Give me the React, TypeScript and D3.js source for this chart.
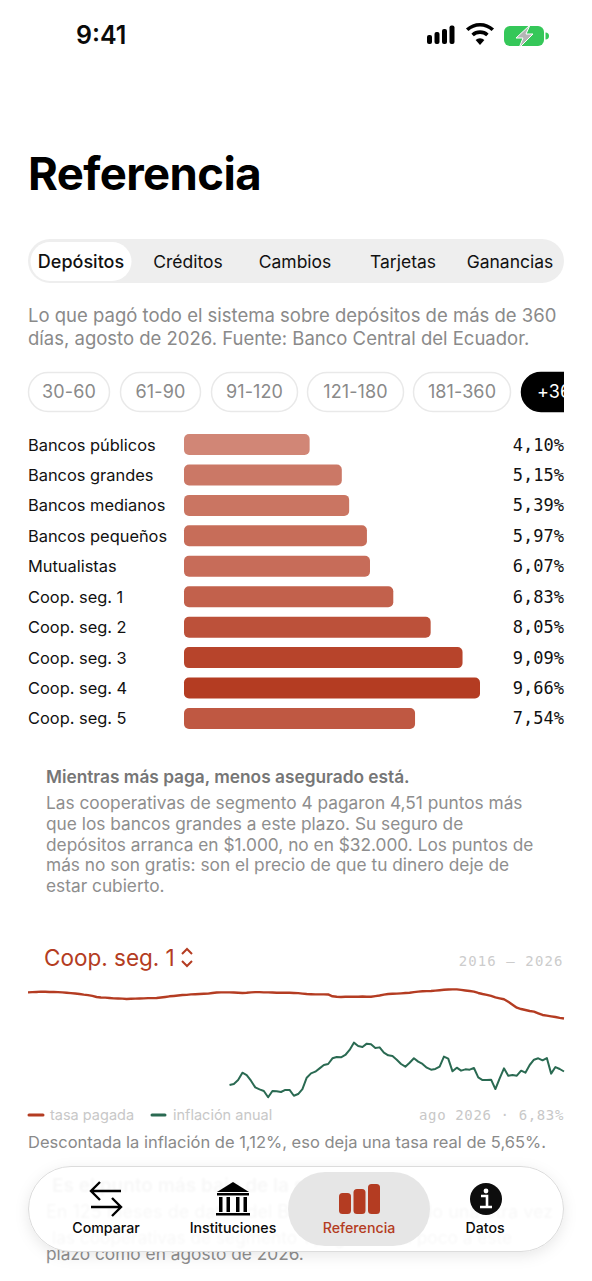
import React from "react";
import { scaleBand, scaleLinear, line } from "d3";

const tabs = ["Depósitos", "Créditos", "Cambios", "Tarjetas", "Ganancias"];
const tabCenters = [81, 188, 295, 403, 510];
const chips = ["30-60", "61-90", "91-120", "121-180", "181-360", "+360"];
const chipEdges = [[28, 110], [120, 201], [211, 298], [307, 404], [413, 511], [521, 600]];

const categories = [
  "Bancos públicos", "Bancos grandes", "Bancos medianos", "Bancos pequeños", "Mutualistas",
  "Coop. seg. 1", "Coop. seg. 2", "Coop. seg. 3", "Coop. seg. 4", "Coop. seg. 5",
];
const rates = [4.1, 5.15, 5.39, 5.97, 6.07, 6.83, 8.05, 9.09, 9.66, 7.54];

// monthly, coop. seg. 1
const tasaPagada = [
  9.65, 9.67, 9.69, 9.72, 9.71, 9.69, 9.69, 9.67, 9.65, 9.61,
  9.56, 9.52, 9.47, 9.4, 9.35, 9.26, 9.15, 9.09, 9.08, 9.04,
  9.0, 8.99, 8.97, 8.93, 8.95, 8.97, 8.98, 9.0, 9.02, 9.02,
  9.04, 9.09, 9.15, 9.22, 9.26, 9.31, 9.36, 9.38, 9.43, 9.45,
  9.47, 9.49, 9.51, 9.58, 9.63, 9.65, 9.65, 9.65, 9.63, 9.61,
  9.58, 9.6, 9.65, 9.67, 9.67, 9.65, 9.65, 9.63, 9.61, 9.61,
  9.61, 9.6, 9.58, 9.56, 9.51, 9.47, 9.45, 9.43, 9.43, 9.43,
  9.42, 9.22, 9.17, 9.15, 9.17, 9.18, 9.18, 9.18, 9.2, 9.18,
  9.18, 9.24, 9.31, 9.4, 9.47, 9.49, 9.51, 9.54, 9.58, 9.6,
  9.67, 9.72, 9.76, 9.78, 9.79, 9.83, 9.88, 9.92, 9.96, 9.97,
  9.97, 9.92, 9.85, 9.79, 9.72, 9.58, 9.47, 9.38, 9.26, 9.11,
  9.0, 8.9, 8.64, 8.32, 8.0, 7.85, 7.75, 7.64, 7.57, 7.39,
  7.21, 7.14, 7.06, 6.99, 6.9, 6.83,
];
// starts 47 months after tasaPagada
const inflacionStart = 47;
const inflacion = [
  -0.34, -0.23, 0.2, 0.99, 0.74, 0.13, -0.59, -0.8, -0.98, -1.66,
  -0.98, -1.02, -1.09, -0.87, -0.87, -1.49, -1.31, -0.77, 0.45, 0.92,
  1.1, 1.46, 1.82, 1.93, 2.54, 2.68, 2.65, 2.9, 3.44, 4.23,
  3.87, 3.76, 4.12, 4.05, 3.65, 3.72, 3.15, 2.86, 2.79, 2.39,
  1.93, 1.64, 2.07, 2.54, 2.18, 1.93, 1.53, 1.32, 1.39, 1.64,
  2.72, 2.5, 1.14, 1.53, 1.21, 1.35, 1.32, 1.5, 0.49, 0.2,
  0.2, 0.24, -0.77, 0.38, 1.46, 0.67, 0.74, 0.67, 1.21, 0.99,
  1.82, 2.39, 2.54, 2.32, 2.57, 0.89, 1.6, 1.39, 1.12,
];

const note = [
  "Las cooperativas de segmento 4 pagaron 4,51 puntos más",
  "que los bancos grandes a este plazo. Su seguro de",
  "depósitos arranca en $1.000, no en $32.000. Los puntos de",
  "más no son gratis: son el precio de que tu dinero deje de",
  "estar cubierto.",
];
const navItems = ["Comparar", "Instituciones", "Referencia", "Datos"];
const navCenters = [106, 233, 359, 485];

const RED = "#b43c22";
const GREEN = "#2a6a52";
const SANS = "Inter, sans-serif";
const MONO = "'DejaVu Sans Mono', monospace";

export default function App() {
  const xBar = scaleLinear().domain([0, 9.66]).range([184, 480]);
  const yBar = scaleBand<string>().domain(categories).range([434, 729]).paddingInner(0.31);
  const barOpacity = scaleLinear().domain([4.1, 9.66]).range([0.62, 1]);

  const xLine = scaleLinear().domain([0, tasaPagada.length - 1]).range([28, 564]);
  const yLine = scaleLinear().domain([6.83, 1.12]).range([1018.5, 1071.5]);
  const redPath = line<number>().x((_, i) => xLine(i)).y((d) => yLine(d))(tasaPagada) ?? "";
  const greenPath = line<number>().x((_, i) => xLine(i + inflacionStart)).y((d) => yLine(d))(inflacion) ?? "";

  return (
    <svg
      width={592}
      height={1281}
      viewBox="0 0 592 1281"
      style={{ position: "absolute", left: 0, top: 0, display: "block", background: "#fff" }}
      fontFamily={SANS}
    >
      <defs>
        <clipPath id="chipClip"><rect x={0} y={360} width={564} height={60} /></clipPath>
        <clipPath id="pillClip"><rect x={29} y={1167} width={534} height={84} rx={42} /></clipPath>
        <filter id="ghost" x="-5%" y="-20%" width="110%" height="140%"><feGaussianBlur stdDeviation={0.8} /></filter>
        <filter id="pillShadow" x="-10%" y="-30%" width="120%" height="170%">
          <feDropShadow dx={0} dy={4} stdDeviation={7} floodColor="#000" floodOpacity={0.09} />
        </filter>
      </defs>

      {/* status bar */}
      <text x={76} y={44} fontSize={25} fontWeight={600} fill="#0a0a0a">9:41</text>
      <g fill="#000">
        <rect x={427} y={35} width={5} height={9} rx={2} />
        <rect x={434.5} y={32} width={5} height={12} rx={2} />
        <rect x={442} y={29} width={5} height={15} rx={2} />
        <rect x={449.5} y={25.5} width={5} height={18.5} rx={2} />
        <path d="M480 45l-4.4-5a6.4 6.4 0 0 1 8.8 0z" />
      </g>
      <g fill="none" stroke="#000" strokeWidth={3.6}>
        <path d="M472.6 35a11 11 0 0 1 14.8 0" />
        <path d="M467.2 29.8a18.6 18.6 0 0 1 25.6 0" />
      </g>
      <rect x={504} y={26} width={40} height={20} rx={6} fill="#35c759" />
      <path d="M545.5 32.5a3 3 0 0 1 0 7z" fill="#35c759" />
      <path d="M530 25l-14 13h7l-4 10 14-14h-7z" fill="#b5b5b5" stroke="#fff" strokeWidth={1} />

      <text x={28} y={190} fontSize={45.5} fontWeight={700} fill="#000" letterSpacing={-0.6}>Referencia</text>

      {/* tabs */}
      <rect x={28} y={239} width={536} height={44} rx={22} fill="#eeeeee" />
      <rect x={30.5} y={242} width={101} height={39} rx={19.5} fill="#fff" />
      {tabs.map((t, i) => (
        <text key={t} x={tabCenters[i]} y={267.5} fontSize={i === 0 ? 18 : 17.5} textAnchor="middle" fontWeight={i === 0 ? 500 : 400} fill="#111">{t}</text>
      ))}

      <text fontSize={18.5} fill="#8a8a8a">
        <tspan x={28} y={322}>Lo que pagó todo el sistema sobre depósitos de más de 360</tspan>
        <tspan x={28} y={345}>días, agosto de 2026. Fuente: Banco Central del Ecuador.</tspan>
      </text>

      {/* plazos */}
      <g clipPath="url(#chipClip)">
        {chips.map((c, i) => {
          const [x0, x1] = chipEdges[i];
          const on = i === chips.length - 1;
          return (
            <g key={c}>
              <rect x={x0 + 0.5} y={372.5} width={x1 - x0 - 1} height={39} rx={19.5} fill={on ? "#000" : "#fff"} stroke={on ? "#000" : "#e9e9e9"} strokeWidth={1.5} />
              <text x={on ? 537 : (x0 + x1) / 2} y={398} fontSize={18} letterSpacing={0.1} textAnchor={on ? "start" : "middle"} fill={on ? "#fff" : "#8a8a8a"}>{c}</text>
            </g>
          );
        })}
      </g>

      {/* bars */}
      {categories.map((c, i) => {
        const y = yBar(c) ?? 0;
        const mid = y + yBar.bandwidth() / 2;
        return (
          <g key={c}>
            <text x={28} y={mid + 6} fontSize={16.4} fill="#111">{c}</text>
            <rect x={xBar(0)} y={y} width={xBar(rates[i]) - xBar(0)} height={yBar.bandwidth()} rx={5} fill={RED} fillOpacity={barOpacity(rates[i])} />
            <text x={564} y={mid + 6} fontSize={17} fontFamily={MONO} textAnchor="end" fill="#111">{rates[i].toFixed(2).replace(".", ",")}%</text>
          </g>
        );
      })}

      {/* note */}
      <text x={46} y={783} fontSize={17.3} fontWeight={600} fill="#767676">Mientras más paga, menos asegurado está.</text>
      <text fontSize={17.3} fill="#8e8e8e">
        {note.map((l, i) => (
          <tspan key={l} x={46} y={809 + i * 20.8}>{l}</tspan>
        ))}
      </text>

      {/* series */}
      <text x={44} y={966} fontSize={22.5} fill={RED}>Coop. seg. 1</text>
      <path d="M182 954l5-5 5 5M182 961l5 5 5-5" fill="none" stroke={RED} strokeWidth={2} />
      <text x={563.5} y={966} fontSize={14} fontFamily={MONO} letterSpacing={1.1} textAnchor="end" fill="#cccccc">2016 — 2026</text>
      <path d={redPath} fill="none" stroke={RED} strokeWidth={2.4} strokeLinejoin="round" />
      <path d={greenPath} fill="none" stroke={GREEN} strokeWidth={2} strokeLinejoin="round" />

      <line x1={29} x2={43} y1={1115} y2={1115} stroke={RED} strokeWidth={3} strokeLinecap="round" />
      <text x={50} y={1120} fontSize={14.5} fill="#c8c8c8">tasa pagada</text>
      <line x1={152} x2={165} y1={1115} y2={1115} stroke={GREEN} strokeWidth={3} strokeLinecap="round" />
      <text x={173} y={1120} fontSize={14.5} fill="#c8c8c8">inflación anual</text>
      <text x={564} y={1120} fontSize={14} fontFamily={MONO} letterSpacing={0.63} textAnchor="end" fill="#c8c8c8">ago 2026 · 6,83%</text>
      <text x={28} y={1148} fontSize={16.5} fill="#8a8a8a">Descontada la inflación de 1,12%, eso deja una tasa real de 5,65%.</text>

      {/* text scrolled under the tab bar */}
      <text x={46} y={1260} fontSize={17.3} fill="#8e8e8e">plazo como en agosto de 2026.</text>

      {/* tab bar */}
      <rect x={28.5} y={1166.5} width={535} height={85} rx={42.5} fill="#fff" stroke="#dcdcdc" filter="url(#pillShadow)" />
      <g clipPath="url(#pillClip)">
        <g filter="url(#ghost)" fill="#000" opacity={0.03}>
          <text x={52} y={1192} fontSize={19} fontWeight={600}>Es el punto más bajo de la serie.</text>
          <text x={46} y={1218} fontSize={18}>En 125 meses de datos del Banco Central, solo una otra vez</text>
          <text x={52} y={1244} fontSize={17.3}>las cooperativas de segmento 1 pagaron tan poco a este</text>
        </g>
      </g>
      <rect x={288} y={1172} width={142} height={74} rx={37} fill="#e3e3e3" fillOpacity={0.9} />
      {navItems.map((n, i) => (
        <text key={n} x={navCenters[i]} y={1233} fontSize={14.2} fontWeight={500} textAnchor="middle" fill={i === 2 ? RED : "#0a0a0a"}>{n}</text>
      ))}
      <g fill="none" stroke="#000" strokeWidth={2.4}>
        <path d="M121 1191H92M100 1182l-9 9 9 9" />
        <path d="M91 1207h29M112 1198l9 9-9 9" />
      </g>
      <g fill="#000">
        <path d="M233 1182l16 10h-32z" />
        <rect x={217} y={1193} width={32} height={2.5} />
        <rect x={219} y={1197} width={3.5} height={15} />
        <rect x={226.5} y={1197} width={3.5} height={15} />
        <rect x={236} y={1197} width={3.5} height={15} />
        <rect x={243.5} y={1197} width={3.5} height={15} />
        <rect x={216} y={1213} width={34} height={2.5} />
      </g>
      <g fill={RED}>
        <rect x={339} y={1193} width={12} height={21} rx={3.5} />
        <rect x={353.5} y={1189} width={12} height={25} rx={3.5} />
        <rect x={368} y={1184} width={12} height={30} rx={3.5} />
      </g>
      <circle cx={486} cy={1199} r={16} fill="#0d0d0d" />
      <circle cx={486} cy={1191} r={2.4} fill="#fff" />
      <path d="M481 1196h6v10M480 1207h12" fill="none" stroke="#fff" strokeWidth={2.6} />
    </svg>
  );
}
